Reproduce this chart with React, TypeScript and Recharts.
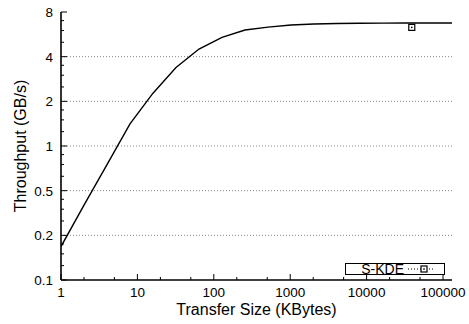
import { LineChart, Line, XAxis, YAxis, ReferenceLine } from "recharts";

// transfer sizes in KBytes and measured throughput in GB/s
const sizes = [
  1, 2, 4, 8, 16, 32, 64, 128, 256, 512, 1024, 2048, 4096, 8192, 16384,
  32768, 65536, 131072,
];
const throughput = [
  0.21, 0.4, 0.75, 1.41, 2.27, 3.38, 4.5, 5.39, 6.05, 6.33, 6.54, 6.64, 6.7,
  6.72, 6.73, 6.74, 6.74, 6.74,
];

// the single S-KDE point
const skdeSizes = [39000];
const skdeThroughput = [6.3];

const xMajorTicks = [1, 10, 100, 1000, 10000, 100000];
const xMinorTicks = [2, 5, 20, 50, 200, 500, 2000, 5000, 20000, 50000];
const yMajorTicks = [0.125, 0.25, 0.5, 1, 2, 4, 8];
const yTickLabels = ["0.1", "0.2", "0.5", "1", "2", "4", "8"];
const yMinorSteps = [1.25, 1.5, 1.75];
const gridValues = [0.25, 0.5, 1, 2, 4];

const mainData = sizes.map((x, i) => ({ x, y: throughput[i] }));
const skdeData = skdeSizes.map((x, i) => ({ x, y: skdeThroughput[i] }));
const yMinorTicks = yMajorTicks
  .slice(0, -1)
  .flatMap((v) => yMinorSteps.map((s) => v * s));
const xTicks = [...xMajorTicks, ...xMinorTicks].sort((a, b) => a - b);
const yTicks = [...yMajorTicks, ...yMinorTicks].sort((a, b) => a - b);

const FONT = "'Liberation Sans', Arial, Helvetica, sans-serif";
const TICK_FS = 13.5;

const XTick = (props: any) => {
  const { x, y, payload, side } = props;
  const major = xMajorTicks.includes(payload.value);
  const len = major ? 6 : 3;
  const dir = side === "top" ? 1 : -1;
  return (
    <g>
      <line x1={x} x2={x} y1={y} y2={y + dir * len} stroke="#000" strokeWidth={1} />
      {major && side !== "top" && (
        <text x={x} y={y + 17} textAnchor="middle" fontSize={TICK_FS} fill="#000" fontFamily={FONT}>
          {payload.value}
        </text>
      )}
    </g>
  );
};

const YTick = (props: any) => {
  const { x, y, payload, side } = props;
  const idx = yMajorTicks.indexOf(payload.value);
  const major = idx >= 0;
  const len = major ? 6 : 3;
  const dir = side === "right" ? -1 : 1;
  return (
    <g>
      <line x1={x} x2={x + dir * len} y1={y} y2={y} stroke="#000" strokeWidth={1} />
      {major && side !== "right" && (
        <text x={x - 8} y={y + 5} textAnchor="end" fontSize={TICK_FS} fill="#000" fontFamily={FONT}>
          {yTickLabels[idx]}
        </text>
      )}
    </g>
  );
};

const SquareDot = (props: any) => {
  const { cx, cy } = props;
  if (cx == null || cy == null) return null;
  return (
    <g key={`sq-${cx}`}>
      <rect x={cx - 3} y={cy - 3} width={6} height={6} fill="none" stroke="#000" strokeWidth={1.2} />
      <rect x={cx - 0.75} y={cy - 0.75} width={1.5} height={1.5} fill="#000" />
    </g>
  );
};

const LegendBox = () => (
  <div
    style={{
      position: "absolute",
      left: 345,
      top: 263,
      boxSizing: "border-box",
      width: 100,
      height: 12,
      border: "1px solid #000",
      display: "flex",
      alignItems: "center",
      justifyContent: "flex-end",
      fontFamily: FONT,
      fontSize: 14,
      lineHeight: "10px",
      color: "#000",
      background: "#fff",
    }}
  >
    <span>S-KDE</span>
    <svg width={38} height={10} style={{ marginLeft: 2 }}>
      <line x1={2} x2={29} y1={5} y2={5} stroke="#000" strokeDasharray="1 2" />
      <rect x={15} y={2} width={6} height={6} fill="#fff" stroke="#000" strokeWidth={1.2} />
      <rect x={17.25} y={4.25} width={1.5} height={1.5} fill="#000" />
    </svg>
  </div>
);

const App = () => {
  return (
    <div style={{ position: "absolute", left: 0, top: 0, width: 469, height: 324 }}>
      <LineChart
        width={469}
        height={324}
        margin={{ top: 12, right: 17, bottom: 0, left: 0 }}
        style={{ fontFamily: FONT }}
      >
        <XAxis
          xAxisId="b"
          dataKey="x"
          type="number"
          scale="log"
          domain={[1, 131072]}
          allowDataOverflow
          ticks={xTicks}
          interval={0}
          tickSize={0}
          tickMargin={0}
          tickLine={false}
          axisLine={{ stroke: "#000", strokeWidth: 1.6 }}
          tick={<XTick side="bottom" />}
          height={44}
          label={{
            content: (p: any) => (
              <text
                x={p.viewBox.x + p.viewBox.width / 2}
                y={p.viewBox.y + 35}
                textAnchor="middle"
                fontSize={16}
                fontFamily={FONT}
                fill="#000"
              >
                Transfer Size (KBytes)
              </text>
            ),
          }}
        />
        <XAxis
          xAxisId="t"
          orientation="top"
          dataKey="x"
          type="number"
          scale="log"
          domain={[1, 131072]}
          allowDataOverflow
          ticks={xTicks}
          interval={0}
          tickSize={0}
          tickMargin={0}
          tickLine={false}
          axisLine={{ stroke: "#000", strokeWidth: 1.6 }}
          tick={<XTick side="top" />}
          height={0}
        />
        <YAxis
          yAxisId="l"
          type="number"
          scale="log"
          domain={[0.125, 8]}
          allowDataOverflow
          ticks={yTicks}
          interval={0}
          tickSize={0}
          tickMargin={0}
          tickLine={false}
          axisLine={{ stroke: "#000", strokeWidth: 1.6 }}
          tick={<YTick side="left" />}
          width={61}
          label={{
            content: (p: any) => {
              const cx = p.viewBox.x + 20;
              const cy = p.viewBox.y + p.viewBox.height / 2;
              return (
                <text
                  x={cx}
                  y={cy}
                  transform={`rotate(-90 ${cx} ${cy})`}
                  textAnchor="middle"
                  dominantBaseline="central"
                  fontSize={16}
                  fontFamily={FONT}
                  fill="#000"
                >
                  Throughput (GB/s)
                </text>
              );
            },
          }}
        />
        <YAxis
          yAxisId="r"
          orientation="right"
          type="number"
          scale="log"
          domain={[0.125, 8]}
          allowDataOverflow
          ticks={yTicks}
          interval={0}
          tickSize={0}
          tickMargin={0}
          tickLine={false}
          axisLine={{ stroke: "#000", strokeWidth: 1.6 }}
          tick={<YTick side="right" />}
          width={0}
        />
        {gridValues.map((v) => (
          <ReferenceLine
            key={v}
            xAxisId="b"
            yAxisId="l"
            y={v}
            stroke="#888"
            strokeDasharray="1 2"
          />
        ))}
        <Line
          xAxisId="b"
          yAxisId="l"
          data={mainData}
          dataKey="y"
          stroke="#000"
          strokeWidth={1.4}
          dot={false}
          legendType="none"
          isAnimationActive={false}
        />
        <Line
          xAxisId="b"
          yAxisId="l"
          data={skdeData}
          dataKey="y"
          name="S-KDE"
          stroke="#000"
          strokeDasharray="1 2"
          dot={<SquareDot />}
          isAnimationActive={false}
        />
      </LineChart>
      <LegendBox />
    </div>
  );
};

export default App;
